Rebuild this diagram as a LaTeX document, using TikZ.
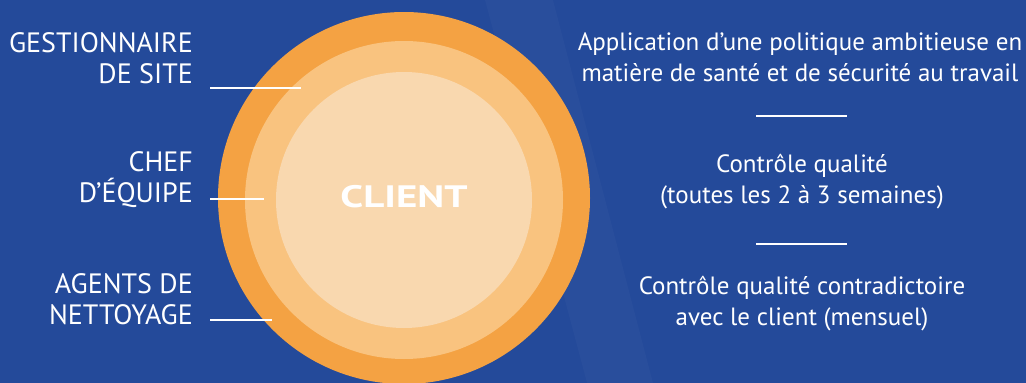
\documentclass[tikz,border=0pt]{standalone}
\usepackage{fontspec}
\setmainfont{PT Sans}
\newfontfamily\clientfont[FakeStretch=1.32]{PT Sans Bold}
\usepackage{xcolor}
\usepackage{tikz}
\usetikzlibrary{calc}
\definecolor{bg}{HTML}{244A9A}
\definecolor{band}{HTML}{294E9C}
\definecolor{O0}{HTML}{F4A243}
\definecolor{O1}{HTML}{F9C37F}
\definecolor{O2}{HTML}{F9D8AF}
\tikzstyle{label} = [text=white, inner sep=0pt, font=\fontsize{25}{31}\selectfont]
\tikzstyle{role} = [label, align=right, anchor=base east, font=\fontsize{28}{31}\selectfont]
\tikzstyle{task} = [label, align=center, anchor=base]
\tikzstyle{rule} = [white, line width=2pt]

\begin{document}
\begin{tikzpicture}[x=1pt, y=-1pt]
	\fill[bg] (0,0) rectangle (1026,383) ;
	\fill[band] (485,0) -- (553,0) -- (653,383) -- (587,383) -- cycle ;
	\useasboundingbox (0,0) rectangle (1026,383) ;
	
	% the three rings
	\fill[O0] (404,198) circle (186pt) ;
	\fill[O1] (404,200) circle (159pt) ;
	\fill[O2] (404,200) circle (128pt) ;
	\node[label, font=\fontsize{31}{31}\clientfont] (client) at (404,197) {CLIENT} ;
	
	% left labels (anchored at the last baseline)
	\node[role] (gest) at (193,83) {GESTIONNAIRE\\DE SITE} ;
	\node[role] (chef) at (193,202) {CHEF\\D’ÉQUIPE} ;
	\node[role] (agent) at (193,324) {AGENTS DE\\NETTOYAGE} ;
	
	\foreach \name/\y/\xend in {gest/88/301, chef/199/264, agent/320/272}
	{
		\coordinate (\name-a) at (210,\y) ;
		\coordinate (\name-b) at (\xend,\y) ;
		\draw[rule] (\name-a) -- (\name-b) ;
	}
	
	% right labels
	\node[task] (sante) at (800,81) {Application d’une politique ambitieuse en\\matière de santé et de sécurité au travail} ;
	\node[task] (qual) at (802,203) {Contrôle qualité\\(toutes les 2 à 3 semaines)} ;
	\node[task] (contra) at (802,325) {Contrôle qualité contradictoire\\avec le client (mensuel)} ;
	
	\foreach \name/\y in {sepA/116, sepB/244}
	{
		\coordinate (\name-a) at (756,\y) ;
		\coordinate (\name-b) at (847,\y) ;
		\draw[rule] (\name-a) -- (\name-b) ;
	}
\end{tikzpicture}
\end{document}
